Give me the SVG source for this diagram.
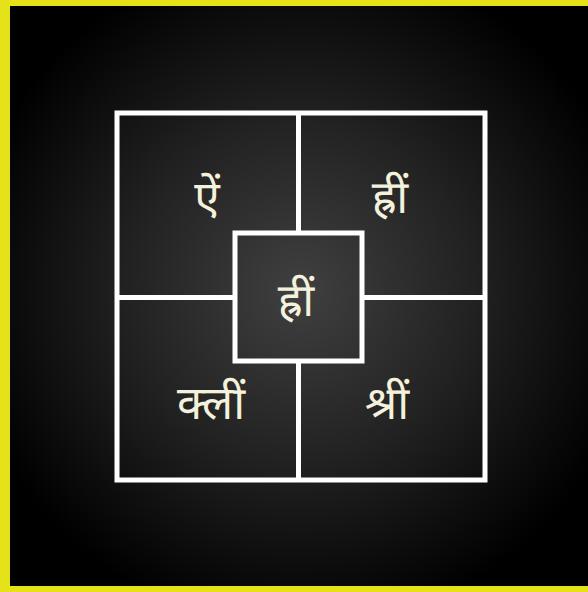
<svg xmlns="http://www.w3.org/2000/svg" width="588" height="592" viewBox="0 0 588 592">
  <defs>
    <radialGradient id="bg" cx="300" cy="290" r="340" gradientUnits="userSpaceOnUse">
      <stop offset="0" stop-color="#404040"/>
      <stop offset="0.5" stop-color="#222222"/>
      <stop offset="1" stop-color="#000000"/>
    </radialGradient>
    <style>
      .ln { fill: none; stroke: #ffffff; stroke-width: 5; }
      .bija { fill: #f4f1dc; font-family: "Noto Sans Devanagari", "Noto Sans", "DejaVu Sans", sans-serif; font-size: 46px; text-anchor: middle; }
    </style>
  </defs>
  <rect x="0" y="0" width="588" height="592" fill="#e6e21a"/>
  <rect x="10" y="6" width="578" height="580" fill="url(#bg)"/>
  <g id="connectors">
    <rect class="ln" x="117" y="113" width="368" height="367"/>
    <line class="ln" x1="298.5" y1="113" x2="298.5" y2="233"/>
    <line class="ln" x1="298.5" y1="361" x2="298.5" y2="480"/>
    <line class="ln" x1="117" y1="297.5" x2="235" y2="297.5"/>
    <line class="ln" x1="362" y1="297.5" x2="485" y2="297.5"/>
  </g>
  <g id="node-top-left"><text class="bija" x="207" y="214">ऐं</text></g>
  <g id="node-top-right"><text class="bija" x="390" y="213">ह्रीं</text></g>
  <g id="node-center">
    <rect class="ln" x="235" y="233" width="127" height="128"/>
    <text class="bija" x="296" y="316">ह्रीं</text>
  </g>
  <g id="node-bottom-left"><text class="bija" x="211" y="419">क्लीं</text></g>
  <g id="node-bottom-right"><text class="bija" x="387" y="419">श्रीं</text></g>
</svg>
